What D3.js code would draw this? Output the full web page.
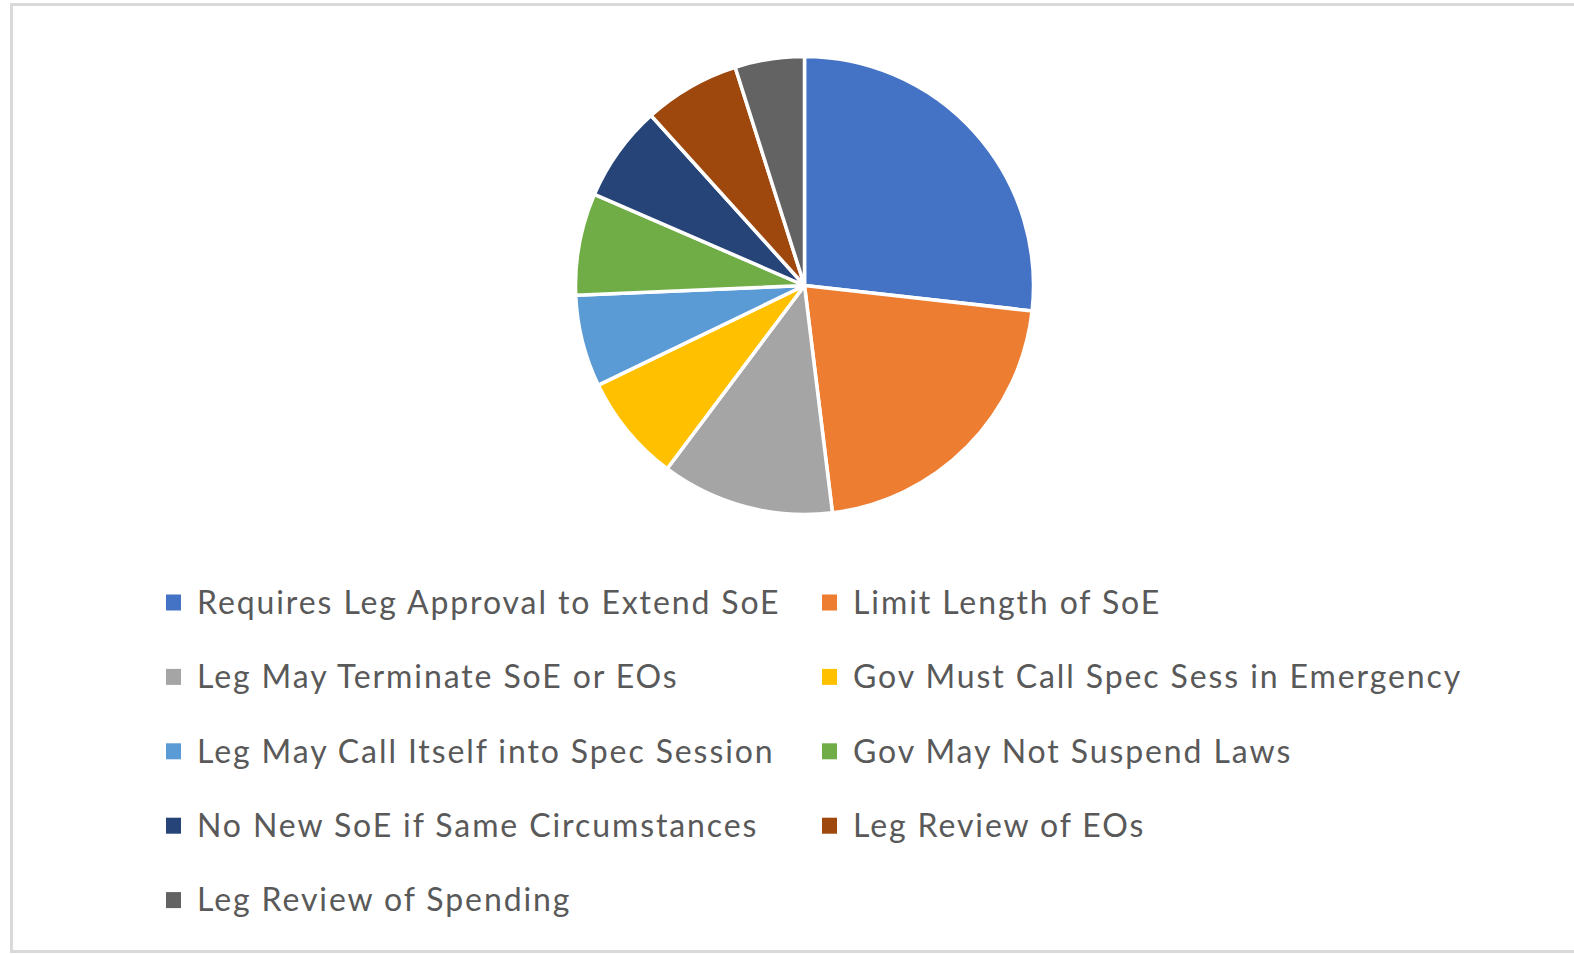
<!DOCTYPE html>
<html>
<head>
<meta charset="utf-8">
<script src="https://cdn.jsdelivr.net/npm/d3@7"></script>
<style>
  html, body { margin: 0; padding: 0; background: #ffffff; }
  svg { display: block; }
</style>
</head>
<body>
<svg id="chart" width="1574" height="954"></svg>
<script>
const categories = [
  "Requires Leg Approval to Extend SoE",
  "Limit Length of SoE",
  "Leg May Terminate SoE or EOs",
  "Gov Must Call Spec Sess in Emergency",
  "Leg May Call Itself into Spec Session",
  "Gov May Not Suspend Laws",
  "No New SoE if Same Circumstances",
  "Leg Review of EOs",
  "Leg Review of Spending"
];
const values = [26.8, 21.3, 12.2, 7.6, 6.5, 7.2, 6.8, 6.8, 4.9];
const colors = ["#4472C4", "#ED7D31", "#A5A5A5", "#FFC000", "#5B9BD5", "#70AD47", "#264478", "#9E480E", "#636363"];

const svg = d3.select("#chart");

// outer frame
svg.append("rect")
  .attr("x", 11.5).attr("y", 4.5)
  .attr("width", 1600).attr("height", 947)
  .attr("fill", "#ffffff")
  .attr("stroke", "#d9d9d9")
  .attr("stroke-width", 3);

const data = categories.map((c, i) => ({ name: c, value: values[i], color: colors[i] }));

const cx = 804.5, cy = 285.5, r = 229;
const pie = d3.pie().value(d => d.value).sort(null);
const arc = d3.arc().innerRadius(0).outerRadius(r);

svg.append("g")
  .attr("transform", `translate(${cx},${cy})`)
  .selectAll("path")
  .data(pie(data))
  .join("path")
  .attr("d", arc)
  .attr("fill", d => d.data.color)
  .attr("stroke", "#ffffff")
  .attr("stroke-width", 3.5)
  .attr("stroke-linejoin", "round");

// legend
const colX = [166, 822];
const rowY0 = 602.5, rowStep = 74.4;
const legend = svg.append("g");
const items = legend.selectAll("g")
  .data(data)
  .join("g")
  .attr("transform", (d, i) => `translate(${colX[i % 2]},${rowY0 + Math.floor(i / 2) * rowStep})`);

items.append("rect")
  .attr("x", 0).attr("y", -8)
  .attr("width", 15).attr("height", 16)
  .attr("fill", d => d.color);

items.append("text")
  .attr("x", 31).attr("y", 0)
  .attr("dy", "0.35em")
  .attr("fill", "#595959")
  .style("font-family", "Lato, 'Open Sans', sans-serif")
  .style("font-size", "32px")
  .style("letter-spacing", "1.9px")
  .text(d => d.name);
</script>
</body>
</html>
